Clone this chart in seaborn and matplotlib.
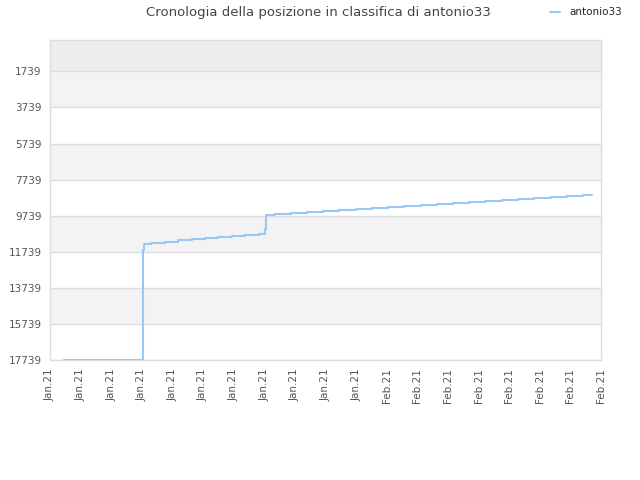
import matplotlib
matplotlib.use("Agg")
import matplotlib.pyplot as plt
import seaborn as sns
import pandas as pd

# rank history of antonio33 (x in days from the left edge, y = position)
days = [1.37, 9.08, 9.18, 9.90, 11.27, 12.54, 13.92, 15.19, 16.46, 17.84, 19.11,
        20.48, 21.04, 21.14, 22.05, 23.62, 25.19, 26.75, 28.32, 29.99, 31.56,
        33.12, 34.69, 36.36, 37.93, 39.49, 41.06, 42.63, 44.30, 45.86, 47.43,
        49.10, 50.67, 52.23, 53.12]
positions = [17739, 11659, 11282, 11227, 11171, 11105, 11033, 10977, 10911, 10856, 10822,
             10772, 10500, 9686, 9631, 9576, 9520, 9465, 9409, 9354, 9298,
             9243, 9187, 9132, 9077, 9021, 8966, 8910, 8855, 8799, 8744,
             8689, 8633, 8578, 8578]

y_ticks = [1739, 3739, 5739, 7739, 9739, 11739, 13739, 15739, 17739]
x_ticks = [0, 3, 6, 9, 12, 15, 18, 21, 24, 27, 30, 33, 36, 39, 42, 45, 48, 51, 54]
x_labels = ["Jan.21"] * 11 + ["Feb.21"] * 8

df = pd.DataFrame({"day": days, "position": positions})

sns.set_style("white")
plt.rcParams["font.family"] = ["DejaVu Sans"]

fig = plt.figure(figsize=(6.4, 4.8), dpi=100)
ax = fig.add_axes([50 / 640, 1 - 360 / 480, 551 / 640, 320 / 480])

# background bands
ax.axhspan(0, 1739, color="#eeeeee", zorder=0, lw=0)
for lo in [1739, 5739, 9739, 13739]:
    ax.axhspan(lo, lo + 2000, color="#f3f3f3", zorder=0, lw=0)

sns.lineplot(data=df, x="day", y="position", ax=ax, color="#99c8f5",
             linewidth=1.5, drawstyle="steps-post", label="antonio33", zorder=3)

ax.set_xlim(0, 54)
ax.set_ylim(17739, 0)
ax.set_yticks(y_ticks)
ax.set_yticklabels([str(v) for v in y_ticks])
ax.set_xticks(x_ticks)
ax.set_xticklabels(x_labels, rotation=90)
ax.tick_params(axis="both", length=0, labelsize=7.5, labelcolor="#555555", pad=6)
ax.set_xlabel("")
ax.set_ylabel("")
ax.grid(axis="y", color="#dddddd", linewidth=1, zorder=1)
ax.set_axisbelow(True)
for s in ax.spines.values():
    s.set_color("#dddddd")
    s.set_linewidth(1)

fig.text(0.497, 0.973, "Cronologia della posizione in classifica di antonio33",
         ha="center", va="center", fontsize=9.5, color="#444444")
ax.legend(loc="center left", bbox_to_anchor=(0.89, 1.087), frameon=False,
          fontsize=7.5, handlelength=1.0, handletextpad=0.9)

fig.savefig("out.png", dpi=100)
